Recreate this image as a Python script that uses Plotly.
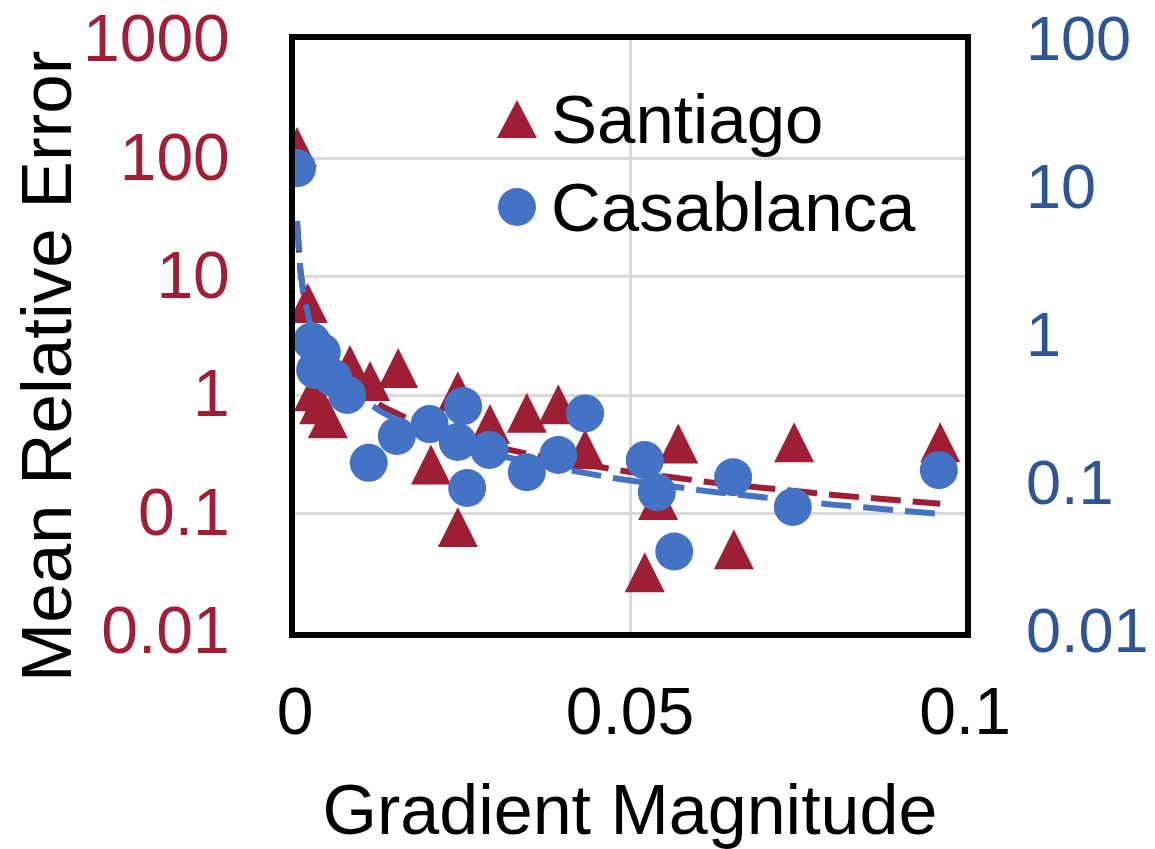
import numpy as np
import plotly.graph_objects as go

# ---- data ----
santiago_x = [0.0003, 0.0019, 0.0028, 0.0036, 0.0049, 0.0082, 0.0112, 0.0154, 0.0203, 0.0243,
              0.0243, 0.0291, 0.0346, 0.0393, 0.0433, 0.0572, 0.0542, 0.0522, 0.0655, 0.0745, 0.0963]
santiago_y = [125, 6.0, 1.08, 0.84, 0.64, 1.8, 1.32, 1.7, 0.26, 0.077,
              1.08, 0.57, 0.71, 0.84, 0.35, 0.39, 0.13, 0.032, 0.050, 0.40, 0.40]

casablanca_x = [0.0003, 0.0025, 0.0040, 0.0030, 0.0057, 0.0078, 0.0110, 0.0152, 0.0201, 0.0251, 0.0243,
                0.0257, 0.0290, 0.0346, 0.0393, 0.0433, 0.0522, 0.0540, 0.0566, 0.0654, 0.0743, 0.0961]
casablanca_y = [13.6, 0.92, 0.78, 0.59, 0.52, 0.40, 0.139, 0.211, 0.254, 0.336, 0.192,
                0.094, 0.17, 0.12, 0.157, 0.30, 0.145, 0.088, 0.035, 0.111, 0.070, 0.124]

x_ticks = [0, 0.05, 0.1]
x_ticktext = ["0", "0.05", "0.1"]
left_ticks = [0.01, 0.1, 1, 10, 100, 1000]
left_ticktext = ["0.01", "0.1", "1", "10", "100", "1000"]
right_ticks = [0.01, 0.1, 1, 10, 100]
right_ticktext = ["0.01", "0.1", "1", "10", "100"]

RED = "#9E1F35"
BLUE = "#4472C4"
RED_TXT = "#A01E36"
BLUE_TXT = "#2F5597"
FONT = "Liberation Sans, Arial, sans-serif"


def power_fit(xs, ys, n=200):
    xs = np.asarray(xs, float)
    ys = np.asarray(ys, float)
    b, lna = np.polyfit(np.log(xs), np.log(ys), 1)
    xf = np.linspace(xs.min(), xs.max(), n)
    return xf, np.exp(lna) * xf ** b


sx, sy = power_fit(santiago_x, santiago_y)
cx, cy = power_fit(casablanca_x, casablanca_y)

tri_size = 40
fig = go.Figure()
fig.add_trace(go.Scatter(
    x=santiago_x, y=santiago_y, mode="markers", name="Santiago", yaxis="y",
    marker=dict(symbol="arrow-down", angle=180, standoff=tri_size / 2, size=tri_size,
                color=RED, line=dict(width=0)),
    showlegend=False))
fig.add_trace(go.Scatter(
    x=sx, y=sy, mode="lines", yaxis="y", showlegend=False,
    line=dict(color=RED, width=6, dash="30px,12px")))
fig.add_trace(go.Scatter(
    x=casablanca_x, y=casablanca_y, mode="markers", name="Casablanca", yaxis="y2",
    marker=dict(symbol="circle", size=38, color=BLUE, line=dict(width=0)),
    showlegend=False))
fig.add_trace(go.Scatter(
    x=cx, y=cy, mode="lines", yaxis="y2", showlegend=False,
    line=dict(color=BLUE, width=6, dash="30px,12px")))

# manual legend (large symbols like the original), plot-area pixel frame
L = 295.0
R = 965.0
T = 40.0
B = 632.0


def px(v):
    return (v - L) / (R - L)


def py(v):
    return (B - v) / (B - T)


fig.add_shape(type="path", xref="paper", yref="paper",
              path=f"M {px(497)} {py(138)} L {px(517)} {py(100)} L {px(537)} {py(138)} Z",
              fillcolor=RED, line=dict(width=0))
fig.add_shape(type="circle", xref="paper", yref="paper",
              x0=px(498), x1=px(536), y0=py(226), y1=py(188),
              fillcolor=BLUE, line=dict(width=0))
fig.add_annotation(text="Santiago", xref="paper", yref="paper", x=px(549), y=py(120),
                   xanchor="left", yanchor="middle", showarrow=False,
                   font=dict(family=FONT, size=69, color="black"))
fig.add_annotation(text="Casablanca", xref="paper", yref="paper", x=px(549), y=py(207),
                   xanchor="left", yanchor="middle", showarrow=False,
                   font=dict(family=FONT, size=69, color="black"))

# y-axis title (placed like the original, slightly below the axis middle)
fig.add_annotation(text="Mean Relative Error", xref="paper", yref="paper",
                   x=px(46), y=py(367), xanchor="center", yanchor="middle",
                   textangle=-90, showarrow=False,
                   font=dict(family=FONT, size=71, color="black"))

fig.update_layout(
    width=1155, height=849, autosize=False,
    margin=dict(l=295, r=190, t=40, b=217, autoexpand=False),
    paper_bgcolor="white", plot_bgcolor="white",
    font=dict(family=FONT, color="black"),
    showlegend=False,
    xaxis=dict(
        range=[0, 0.1], tickvals=x_ticks, ticktext=x_ticktext, automargin=False,
        tickfont=dict(size=66, color="black"),
        showgrid=True, gridcolor="#D9D9D9", gridwidth=3, zeroline=False,
        showline=True, linecolor="black", linewidth=6, mirror=True,
        ticks="", ticklabelstandoff=17, ticklabeloverflow="allow",
        title=dict(text="Gradient Magnitude", font=dict(size=70, color="black"), standoff=46),
    ),
    yaxis=dict(
        type="log", range=[-2, 3], tickvals=left_ticks, ticktext=left_ticktext, automargin=False,
        tickfont=dict(size=66, color=RED_TXT),
        showgrid=True, gridcolor="#D9D9D9", gridwidth=3, zeroline=False,
        showline=True, linecolor="black", linewidth=6, mirror=True,
        ticks="", ticklabelstandoff=46, ticklabelshift=-2, ticklabeloverflow="allow",
    ),
    yaxis2=dict(
        type="log", range=[-2, 2], tickvals=right_ticks, ticktext=right_ticktext,
        overlaying="y", side="right", automargin=False,
        tickfont=dict(size=63, color=BLUE_TXT),
        showgrid=False, zeroline=False, showline=False,
        ticks="", ticklabelstandoff=60, ticklabelshift=-2, ticklabeloverflow="allow",
    ),
)

fig.write_html("out.html")
